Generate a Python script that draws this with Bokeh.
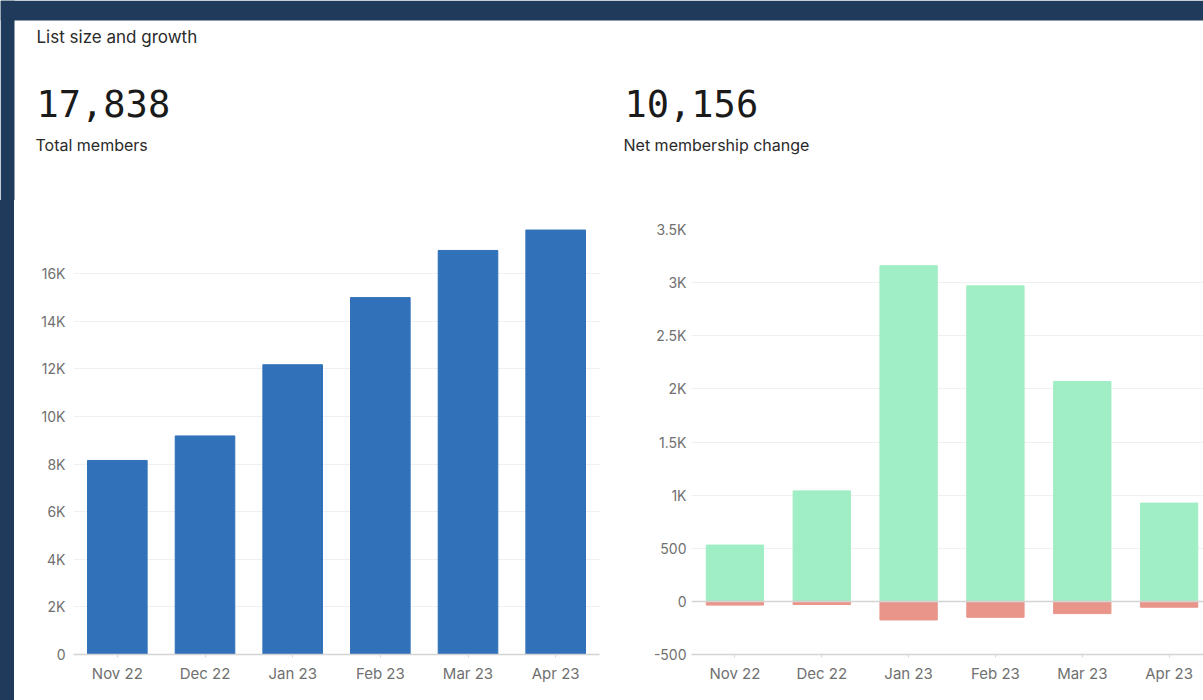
from bokeh.plotting import figure
from bokeh.models import (Range1d, FixedTicker, Label, Span, Div)
from bokeh.layouts import column, row
from bokeh.embed import file_html
from bokeh.resources import INLINE

# ---- data ----
months = ["Nov 22", "Dec 22", "Jan 23", "Feb 23", "Mar 23", "Apr 23"]
total_members = [8150, 9180, 12170, 14990, 16970, 17838]
gained = [530, 1040, 3160, 2970, 2070, 925]
lost = [-35, -30, -175, -150, -115, -55]

left_ticks = [0, 2000, 4000, 6000, 8000, 10000, 12000, 14000, 16000]
left_tick_labels = ["0", "2K", "4K", "6K", "8K", "10K", "12K", "14K", "16K"]
right_ticks = [-500, 0, 500, 1000, 1500, 2000, 2500, 3000, 3500]
right_tick_labels = ["-500", "0", "500", "1K", "1.5K", "2K", "2.5K", "3K", "3.5K"]

section_title = "List size and growth"
kpi_total = "17,838"
kpi_total_label = "Total members"
kpi_net = "10,156"
kpi_net_label = "Net membership change"

# ---- styles ----
DARK = "#1f3a5a"
BLUE = "#3171b9"
GREEN = "#a0eec5"
RED = "#e9958a"
TICK_COLOR = "#707070"
GRID = "#f0f0f0"
AXIS = "#d4d4d4"
FONT = "Inter"

PAGE_W = 1203
HEAD_H = 200
LEFT_W = 598
RIGHT_W = 591
CHART_H = 500

idx = list(range(len(months)))
x_overrides = {i: m for i, m in zip(idx, months)}


def style(p, yticks, ylabels, ystandoff):
    p.outline_line_color = None
    p.background_fill_color = "white"
    p.border_fill_color = "white"
    p.xgrid.grid_line_color = None
    p.ygrid.grid_line_color = GRID
    p.ygrid.grid_line_width = 1
    p.xaxis.ticker = FixedTicker(ticks=idx)
    p.xaxis.major_label_overrides = x_overrides
    p.xaxis.axis_line_color = AXIS
    p.xaxis.axis_line_width = 1.5
    p.xaxis.major_tick_line_color = AXIS
    p.xaxis.major_tick_out = 3
    p.xaxis.major_tick_in = 0
    p.xaxis.minor_tick_line_color = None
    p.xaxis.major_label_standoff = 6
    p.xaxis.major_label_text_font = FONT
    p.xaxis.major_label_text_font_size = "15px"
    p.xaxis.major_label_text_color = TICK_COLOR
    p.yaxis.ticker = FixedTicker(ticks=yticks)
    p.yaxis.major_label_overrides = {t: l for t, l in zip(yticks, ylabels)}
    p.yaxis.axis_line_color = None
    p.yaxis.major_tick_line_color = None
    p.yaxis.major_tick_out = 0
    p.yaxis.major_tick_in = 0
    p.yaxis.minor_tick_line_color = None
    p.yaxis.minor_tick_out = 0
    p.yaxis.major_label_standoff = ystandoff
    p.yaxis.major_label_text_font = FONT
    p.yaxis.major_label_text_font_size = "14px"
    p.yaxis.major_label_text_color = TICK_COLOR


# ---- header (full width; y measured downward in pixels) ----
head = figure(width=PAGE_W, height=HEAD_H, output_backend="svg", toolbar_location=None,
              x_range=Range1d(0, PAGE_W), y_range=Range1d(HEAD_H, 0),
              x_axis_location=None, y_axis_location=None,
              min_border_left=0, min_border_right=0, min_border_top=0, min_border_bottom=0)
head.grid.grid_line_color = None
head.outline_line_color = None
head.background_fill_color = "white"
head.border_fill_color = "white"
# dark frame around the white card
head.quad(left=[0, 0], right=[PAGE_W, 14], top=[0, 0], bottom=[20, HEAD_H],
          color=DARK, line_color=None)


def kpi(x, big, small):
    head.add_layout(Label(x=x, y=103, text=big,
                          text_font="DejaVu Sans Mono", text_font_size="37px",
                          text_color="#1a1a1a", text_baseline="middle", text_align="left"))
    head.add_layout(Label(x=x - 1, y=144, text=small,
                          text_font=FONT, text_font_size="16px", text_color="#2a2a2a",
                          text_baseline="middle", text_align="left"))


head.add_layout(Label(x=36, y=36, text=section_title,
                      text_font=FONT, text_font_size="17px", text_color="#2a2a2a",
                      text_baseline="middle", text_align="left"))
kpi(36, kpi_total, kpi_total_label)
kpi(624, kpi_net, kpi_net_label)

# ---- left chart ----
left = figure(width=LEFT_W, height=CHART_H, output_backend="svg", toolbar_location=None,
              x_range=Range1d(-0.5, 5.5), y_range=Range1d(0, 17850),
              min_border_left=59, min_border_right=13,
              min_border_top=29, min_border_bottom=46)
left.vbar(x=idx, top=total_members, bottom=0, width=0.68, color=BLUE)
style(left, left_ticks, left_tick_labels, 8)

# ---- right chart ----
right = figure(width=RIGHT_W, height=CHART_H, output_backend="svg", toolbar_location=None,
               x_range=Range1d(-0.5, 5.396), y_range=Range1d(-500, 3500),
               min_border_left=79, min_border_right=0,
               min_border_top=29, min_border_bottom=46)
right.vbar(x=idx, top=gained, bottom=0, width=0.66, color=GREEN)
right.vbar(x=idx, top=0, bottom=lost, width=0.66, color=RED)
style(right, right_ticks, right_tick_labels, 5)
right.add_layout(Span(location=0, dimension="width", line_color=AXIS, line_width=1.5))

left_strip = Div(width=14, height=CHART_H, margin=0, styles={"background-color": DARK})

p = column(head, row(left_strip, left, right, spacing=0), spacing=0)

open("out.html", "w").write(file_html(p, INLINE))
